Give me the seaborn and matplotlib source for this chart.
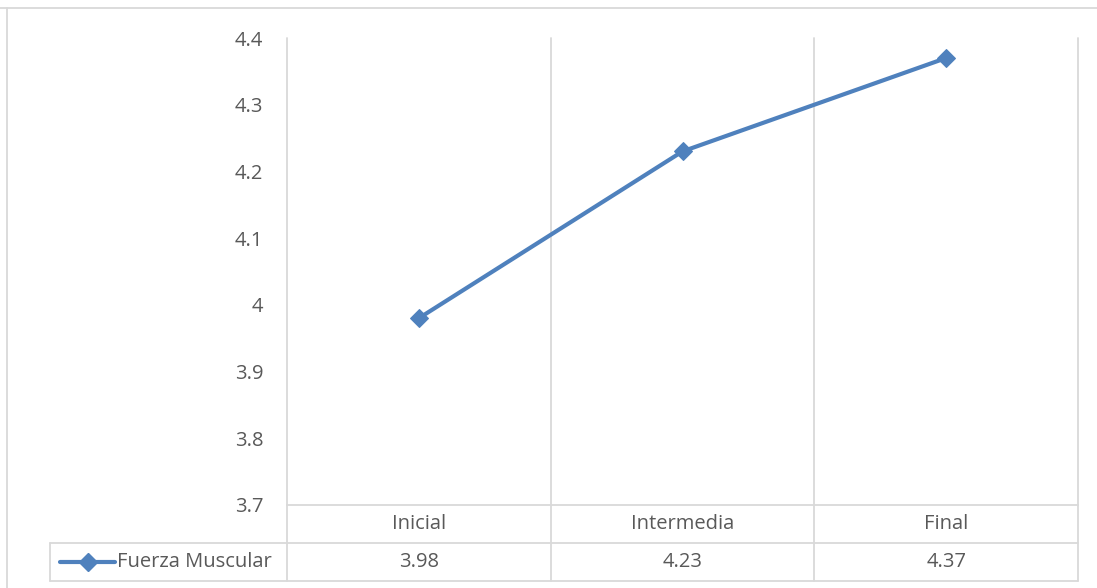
import matplotlib
matplotlib.use("Agg")
import matplotlib.pyplot as plt
import matplotlib.transforms as mtransforms
from matplotlib.lines import Line2D
import seaborn as sns
import pandas as pd

# Data
stages = ["Inicial", "Intermedia", "Final"]
fuerza = [3.98, 4.23, 4.37]
series_name = "Fuerza Muscular"
y_ticks = [3.7, 3.8, 3.9, 4.0, 4.1, 4.2, 4.3, 4.4]
y_tick_labels = ["3.7", "3.8", "3.9", "4", "4.1", "4.2", "4.3", "4.4"]

LINE_BLUE = "#4F81BD"
TEXT_GRAY = "#595959"
GRID_GRAY = "#D9D9D9"
FONT = "Open Sans"
FS = 14.5
LW = 3.0
MS = 9
GLW = 1.3

sns.set_theme(style="white")
plt.rcParams["font.family"] = [FONT, "DejaVu Sans"]

W, H = 1097, 588
fig = plt.figure(figsize=(W / 100, H / 100), dpi=100)
fig.patch.set_facecolor("white")

# plot area in pixel coordinates
px_left, px_right, px_top, px_bottom = 287, 1078, 38, 505
ax = fig.add_axes([px_left / W, 1 - px_bottom / H,
                   (px_right - px_left) / W, (px_bottom - px_top) / H])

df = pd.DataFrame({"stage": range(len(stages)), "value": fuerza})
sns.lineplot(data=df, x="stage", y="value", ax=ax, color=LINE_BLUE,
             linewidth=LW, marker="D", markersize=MS,
             markeredgecolor=LINE_BLUE, markerfacecolor=LINE_BLUE)

ax.set_xlim(-0.5, len(stages) - 0.5)
ax.set_ylim(y_ticks[0], y_ticks[-1])
ax.set_yticks(y_ticks)
ax.set_yticklabels(y_tick_labels, color=TEXT_GRAY, fontsize=FS)
ax.set_xticks([])
ax.set_xlabel("")
ax.set_ylabel("")
ax.tick_params(axis="y", length=0, pad=17)
for s in ax.spines.values():
    s.set_visible(False)

# vertical separators between categories
for xb in [i - 0.5 for i in range(len(stages) + 1)]:
    ax.axvline(xb, color=GRID_GRAY, linewidth=GLW, zorder=0, clip_on=False)
ax.axhline(y_ticks[0], color=GRID_GRAY, linewidth=GLW, zorder=0, clip_on=False)

# data table below the plot
row_h = 38 / (px_bottom - px_top)
blend = mtransforms.blended_transform_factory(ax.transData, ax.transAxes)
table_left = (50 - px_left) / (px_right - px_left)

# horizontal rules
ax.add_line(Line2D([table_left, 1], [-row_h, -row_h], transform=ax.transAxes,
                   color=GRID_GRAY, lw=GLW, clip_on=False))
ax.add_line(Line2D([table_left, 1], [-2 * row_h, -2 * row_h], transform=ax.transAxes,
                   color=GRID_GRAY, lw=GLW, clip_on=False))
# vertical rules
for xb in [i - 0.5 for i in range(len(stages) + 1)]:
    ax.add_line(Line2D([xb, xb], [0, -2 * row_h], transform=blend,
                       color=GRID_GRAY, lw=GLW, clip_on=False))
ax.add_line(Line2D([table_left, table_left], [-row_h, -2 * row_h],
                   transform=ax.transAxes, color=GRID_GRAY, lw=GLW, clip_on=False))

for i, (stage, val) in enumerate(zip(stages, fuerza)):
    ax.text(i, -0.5 * row_h, stage, transform=blend, ha="center", va="center",
            color=TEXT_GRAY, fontsize=FS)
    ax.text(i, -1.5 * row_h, f"{val:.2f}", transform=blend, ha="center",
            va="center", color=TEXT_GRAY, fontsize=FS)

# legend key inside the table
key_y = -1.5 * row_h
kx0 = (60 - px_left) / (px_right - px_left)
kx1 = (115 - px_left) / (px_right - px_left)
kxm = (88 - px_left) / (px_right - px_left)
ax.add_line(Line2D([kx0, kx1], [key_y, key_y], transform=ax.transAxes,
                   color=LINE_BLUE, lw=LW, clip_on=False))
ax.add_line(Line2D([kxm], [key_y], transform=ax.transAxes, marker="D",
                   markersize=MS, color=LINE_BLUE, clip_on=False))
ax.text((117 - px_left) / (px_right - px_left), key_y, series_name,
        transform=ax.transAxes, ha="left", va="center", color=TEXT_GRAY,
        fontsize=FS)

# chart frame
fig.add_artist(Line2D([0, 1], [1 - 8 / H, 1 - 8 / H], transform=fig.transFigure,
                      color=GRID_GRAY, lw=GLW))
fig.add_artist(Line2D([7 / W, 7 / W], [0, 1 - 8 / H], transform=fig.transFigure,
                      color=GRID_GRAY, lw=GLW))

fig.savefig("out.png", dpi=100)
